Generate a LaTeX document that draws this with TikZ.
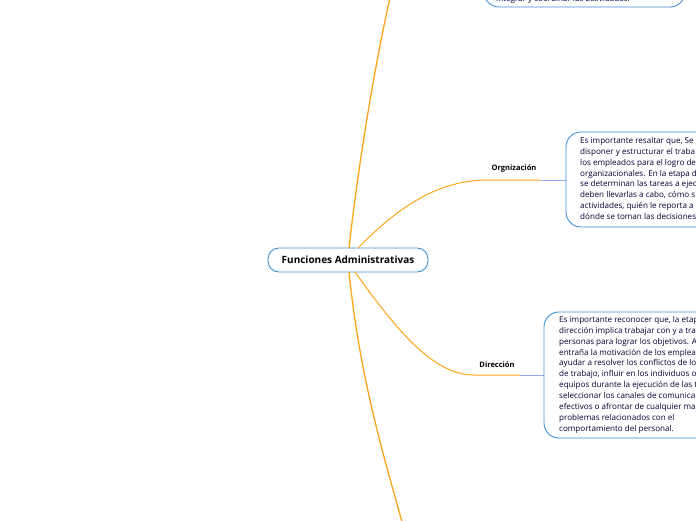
\documentclass[tikz,border=0pt]{standalone}
\usepackage{fontspec}
\setmainfont{Open Sans}
\definecolor{br}{HTML}{FFA31A}
\definecolor{bx}{HTML}{3D8FD6}
\definecolor{ln}{HTML}{8FA8F0}
\begin{document}
\begin{tikzpicture}[x=1pt,y=-1pt,
  branch/.style={draw=br,line width=1.3pt},
  thin/.style={draw=br,line width=1pt},
  blue/.style={draw=ln,line width=0.8pt},
  txt/.style={font=\fontsize{8.1}{10.9}\selectfont,text=black!80!blue,align=left,anchor=north west,inner sep=0pt},
  lab/.style={font=\bfseries\fontsize{7.5}{8}\selectfont,inner sep=0pt},
  box/.style={draw=bx,line width=0.9pt,rounded corners=15pt}]
\useasboundingbox (0,0) rectangle (696,520);
% central
\node[draw=bx,line width=0.9pt,rounded corners=11pt,minimum width=160pt,minimum height=24pt,font=\bfseries\fontsize{10}{11}\selectfont] (c) at (348,260) {Funciones Administrativas};
% top branch
\coordinate (t) at (390,-2);
\draw[branch] (349,248) .. controls (360,150) and (378,50) .. (t);
\draw[box] (484,-40) rectangle (685,7);
\node[txt,anchor=south west] (ttxt) at (496,4) {integrar y coordinar las actividades.};
% bottom branch
\coordinate (b) at (402,522);
\draw[branch] (349,272) .. controls (360,380) and (385,460) .. (b);
% organizacion
\node[lab] (org) at (514,169) {Orgnización};
\draw[thin] (358,248) .. controls (400,205) and (440,180) .. (488,180) -- (541,180);
\draw[blue] (541,180) -- (566,180);
\draw[box] (566,132) rectangle (760,227);
\node[txt] (otxt) at (580,137) {Es importante resaltar que, Se\\disponer y estructurar el traba\\los empleados para el logro de\\organizacionales. En la etapa d\\se determinan las tareas a ejec\\deben llevarlas a cabo, cómo s\\actividades, quién le reporta a\\dónde se toman las decisiones};
% direccion
\node[lab] (dir) at (497,365) {Dirección};
\draw[thin] (355,272) .. controls (400,335) and (435,375) .. (474,375) -- (520,375);
\draw[blue] (520,375) -- (544,375);
\draw[box] (544,312) rectangle (760,438);
\node[txt] (dtxt) at (559,316) {Es importante reconocer que, la etap\\dirección implica trabajar con y a tra\\personas para lograr los objetivos. A\\entraña la motivación de los emplea\\ayudar a resolver los conflictos de lo\\de trabajo, influir en los individuos o\\equipos durante la ejecución de las t\\seleccionar los canales de comunica\\efectivos o afrontar de cualquier ma\\problemas relacionados con el\\comportamiento del personal.};
\end{tikzpicture}
\end{document}
